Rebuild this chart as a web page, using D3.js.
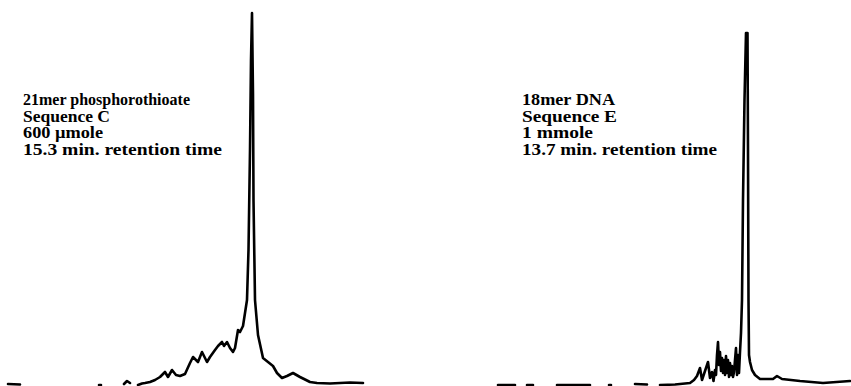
<!DOCTYPE html>
<html>
<head>
<meta charset="utf-8">
<script src="https://cdn.jsdelivr.net/npm/d3@7"></script>
<style>
html,body{margin:0;padding:0;background:#fff;}
svg{display:block;}
</style>
</head>
<body>
<svg id="chart" width="851" height="386"></svg>
<script>
// Time axis in arbitrary units (trace position), signal in arbitrary absorbance units.
// null marks a break in the recorder trace.
const leftTime = [0.8,2.0,null,9.9,10.1,null,12.4,12.7,13.0,null,
  13.8,14.2,14.5,15.0,15.5,16.0,16.5,16.8,17.2,17.6,18.0,18.5,19.0,19.3,19.8,20.2,20.7,21.0,21.5,21.8,22.2,22.4,22.7,23.0,23.3,23.5,23.8,24.0,24.3,24.5,24.7,24.85,25.0,25.1,25.2,25.3,25.35,25.5,25.8,26.3,26.8,27.3,27.7,28.2,28.7,29.3,30.0,31.0,31.7,33.0,34.0,35.0,36.3];
const leftSignal = [1,0.5,null,0,0,null,1,4,2,null,
  0,1.5,2,3,5,8,13,8,15,10,9,11,22,28,23,33,23,28,35,39,43,39,43,37,33,37,55,53,59,72,85,135,235,325,372,290,185,85,50,27,23,19,12,7,9,12,8,3,2,1.5,2,2.5,2,2,1.5];

const rightTime = [49.8,51.5,null,52.7,53.3,null,55.7,59.0,null,60.9,61.1,null,63.5,64.7,null,
  66.0,67.5,69.0,69.4,69.7,70.0,70.2,70.4,70.6,70.8,71.0,71.2,71.35,71.5,71.6,71.7,71.8,71.9,72.0,72.1,72.2,72.3,72.4,72.5,72.6,72.7,72.8,72.9,73.0,73.1,73.2,73.3,73.4,73.5,73.6,73.7,73.8,73.9,74.0,74.1,74.2,74.3,74.45,74.6,74.75,74.8,74.85,74.9,75.0,75.2,75.5,76.0,77.3,77.7,78.2,80.0,82.3,85.0];
const rightSignal = [0,0,null,0,0,null,0,0,null,0,0,null,1,0.5,null,
  0,0.5,2,5,9,17,5,11,17,23,7,13,4,15,10,30,43,20,33,14,27,12,25,10,29,12,25,8,22,10,19,8,13,25,37,10,30,12,33,52,85,185,285,352,352,235,85,30,23,15,10,6,6,9,6,4,2,4];

const leftLabels = ["21mer phosphorothioate", "Sequence C", "600 \u00b5mole", "15.3 min. retention time"];
const rightLabels = ["18mer DNA", "Sequence E", "1 mmole", "13.7 min. retention time"];

const W = 851, H = 386;
const svg = d3.select("#chart");

const x = d3.scaleLinear().domain([0, 85.1]).range([0, W]);
const y = d3.scaleLinear().domain([0, 385]).range([385, 0]);

const line = d3.line()
  .defined(d => d[1] !== null)
  .x(d => x(d[0]))
  .y(d => y(d[1]))
  .curve(d3.curveLinear);

function draw(t, s) {
  const pts = t.map((v, i) => [v, s[i]]);
  svg.append("path")
    .datum(pts)
    .attr("d", line)
    .attr("fill", "none")
    .attr("stroke", "#000")
    .attr("stroke-width", 2.6)
    .attr("stroke-linejoin", "round")
    .attr("stroke-linecap", "round");
}
draw(leftTime, leftSignal);
draw(rightTime, rightSignal);

// Layout of the annotation blocks (rendered line widths as in the original print)
function labels(lines, x0, widths) {
  const g = svg.append("g");
  g.selectAll("text").data(lines).join("text")
    .attr("x", x0)
    .attr("y", (d, i) => 105 + i * 16.7)
    .attr("textLength", (d, i) => widths[i])
    .attr("lengthAdjust", "spacingAndGlyphs")
    .style("font-family", '"Liberation Serif"')
    .style("font-weight", "bold")
    .style("font-size", "16px")
    .style("fill", "#000")
    .text(d => d);
}
labels(leftLabels, 23, [167, 87, 80, 199]);
labels(rightLabels, 522, [93, 95, 71, 195]);
</script>
</body>
</html>
